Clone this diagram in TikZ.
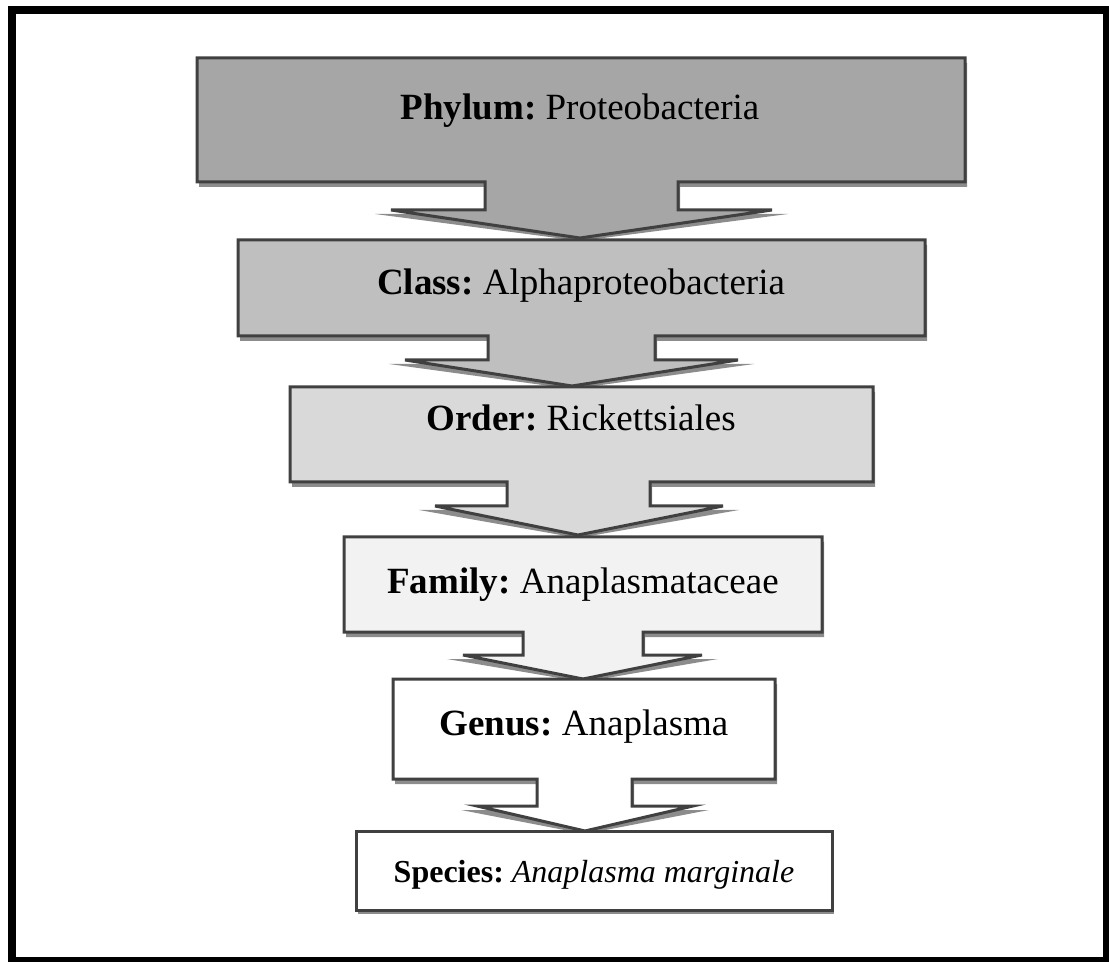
\documentclass[tikz,border=0pt]{standalone}
\usepackage{fontspec}
\setmainfont{Liberation Serif}
\frenchspacing
\definecolor{edgegray}{HTML}{404040}
\definecolor{shadowgray}{HTML}{8C8C8C}
\tikzset{
  callout/.style={draw=edgegray, line width=1.5pt, line join=miter},
  rank/.style={anchor=base, font=\fontsize{18.5}{22}\selectfont},
  smallrank/.style={anchor=base, font=\fontsize{16}{19}\selectfont},
}
\begin{document}
\begin{tikzpicture}[x=0.5pt, y=-0.5pt]
	\useasboundingbox (0,0) rectangle (1109,962);
	\draw [line width=4pt] (12,10) rectangle (1107,961);

	% down arrow callouts, top to bottom
	\foreach \g/\l/\r/\t/\b/\sl/\sr/\hy/\hl/\hr/\tx/\ty in {
			35/197/965/58/182/485/678/210/391/772/580/238,
			25/238/925/240/336/488/655/360/405/738/572/386,
			15/290/873/387/482/507/650/506/435/723/578/535,
			5/344/822/537/632/523/643/655/463/702/583/679,
			0/393/775/679/779/537/632/806/477/693/585/831} {
		\fill [shadowgray] (\l+2,\t+5) -- (\r+2,\t+5) -- (\r+2,\b+5) -- (\sr+2,\b+5) --
			(\sr+2,\hy+4) -- (\hr+16,\hy+4) -- (\tx,\ty+3) -- (\hl-16,\hy+4) --
			(\sl+2,\hy+4) -- (\sl+2,\b+5) -- (\l+2,\b+5) -- cycle;
		\draw [callout, fill=black!\g] (\l,\t) -- (\r,\t) -- (\r,\b) -- (\sr,\b) --
			(\sr,\hy) -- (\hr,\hy) -- (\tx,\ty) -- (\hl,\hy) --
			(\sl,\hy) -- (\sl,\b) -- (\l,\b) -- cycle;
	}
	\fill [shadowgray] (358,836) rectangle (834,914);
	\draw [callout, fill=white] (356,831) rectangle (832,910);

	\node [rank] (phylum) at (580,120) {\textbf{Phylum:} Proteobacteria};
	\node [rank] (class) at (581,295) {\textbf{Class:} Alphaproteobacteria};
	\node [rank] (order) at (581,431) {\textbf{Order:} Rickettsiales};
	\node [rank] (family) at (583,594) {\textbf{Family:} Anaplasmataceae};
	\node [rank] (genus) at (584,735) {\textbf{Genus:} Anaplasma};
	\node [smallrank] (species) at (594,882) {\textbf{Species:} \textit{Anaplasma marginale}};
\end{tikzpicture}
\end{document}
